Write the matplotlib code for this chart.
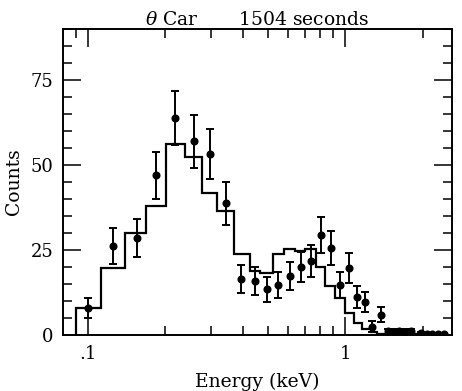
import matplotlib
matplotlib.use("Agg")
import matplotlib.pyplot as plt
from matplotlib.ticker import FixedLocator, FixedFormatter, MultipleLocator, NullFormatter

# measured spectrum (keV, counts, 1-sigma)
energy = [0.100, 0.125, 0.155, 0.184, 0.218, 0.259, 0.298, 0.344, 0.394, 0.447,
          0.497, 0.548, 0.611, 0.674, 0.737, 0.807, 0.882, 0.956, 1.036, 1.113,
          1.196, 1.274, 1.380, 1.46, 1.54, 1.62, 1.71, 1.80,
          1.97, 2.07, 2.18, 2.30, 2.42]
counts = [7.9, 26.2, 28.5, 47.0, 63.8, 57.0, 53.2, 38.8, 16.5, 15.9,
          13.5, 14.7, 17.4, 20.0, 21.8, 29.4, 25.6, 14.7, 19.7, 11.2,
          9.7, 2.4, 5.9, 1.1, 1.0, 1.1, 1.0, 1.1,
          0.5, 0.3, 0.3, 0.3, 0.3]
errors = [2.9, 5.3, 5.6, 6.9, 7.9, 7.8, 7.3, 6.3, 4.2, 4.0,
          3.7, 3.7, 4.2, 4.3, 4.7, 5.4, 4.9, 3.7, 4.4, 3.2,
          3.0, 1.6, 2.2, 0.8, 0.8, 0.8, 0.8, 0.8,
          0.5, 0.3, 0.3, 0.3, 0.3]

# model histogram: bin edges (keV) and predicted counts per bin
model_edges = [0.0898, 0.1123, 0.1393, 0.168, 0.201, 0.238, 0.278, 0.318, 0.370,
               0.427, 0.467, 0.525, 0.579, 0.639, 0.699, 0.771, 0.836, 0.914,
               1.0, 1.084, 1.165, 1.262, 1.332, 2.49]
model_counts = [7.9, 19.7, 30.0, 38.0, 56.2, 52.4, 41.8, 36.5, 23.8,
                18.8, 18.2, 23.8, 25.3, 24.7, 25.3, 20.0, 14.4, 11.0,
                6.4, 3.6, 1.8, 0.9, 0.4]

x_major = [0.1, 1.0]
x_major_labels = [".1", "1"]
x_minor = [0.09, 0.2, 0.3, 0.4, 0.5, 0.6, 0.7, 0.8, 0.9, 2.0]

plt.rcParams["font.family"] = ["DejaVu Serif"]
plt.rcParams["mathtext.fontset"] = "dejavuserif"

fig = plt.figure(figsize=(4.62, 3.91), dpi=100)
ax = fig.add_axes([0.1364, 0.1432, 0.842, 0.7826])

ax.stairs(model_counts, model_edges, color="black", linewidth=1.6)
ax.errorbar(energy, counts, yerr=errors, fmt="o", color="black", ms=4.8,
            elinewidth=1.4, capsize=3.2, capthick=1.4)

ax.set_xscale("log")
ax.set_xlim(0.08, 2.6)
ax.set_ylim(0, 90)

ax.xaxis.set_major_locator(FixedLocator(x_major))
ax.xaxis.set_major_formatter(FixedFormatter(x_major_labels))
ax.xaxis.set_minor_locator(FixedLocator(x_minor))
ax.xaxis.set_minor_formatter(NullFormatter())
ax.yaxis.set_major_locator(MultipleLocator(25))
ax.yaxis.set_minor_locator(MultipleLocator(5))

ax.tick_params(which="both", direction="in", top=True, right=True,
               width=1.1, labelsize=13, color="black")
ax.tick_params(which="major", length=13, pad=7)
ax.tick_params(which="minor", length=6.5)
for s in ax.spines.values():
    s.set_linewidth(1.4)

ax.set_xlabel("Energy (keV)", fontsize=13.5, labelpad=7)
ax.set_ylabel("Counts", fontsize=13.5, labelpad=5)
ax.set_title(r"$\theta$ Car       1504 seconds", fontsize=13.5, pad=3)

fig.savefig("out.png", dpi=100)
